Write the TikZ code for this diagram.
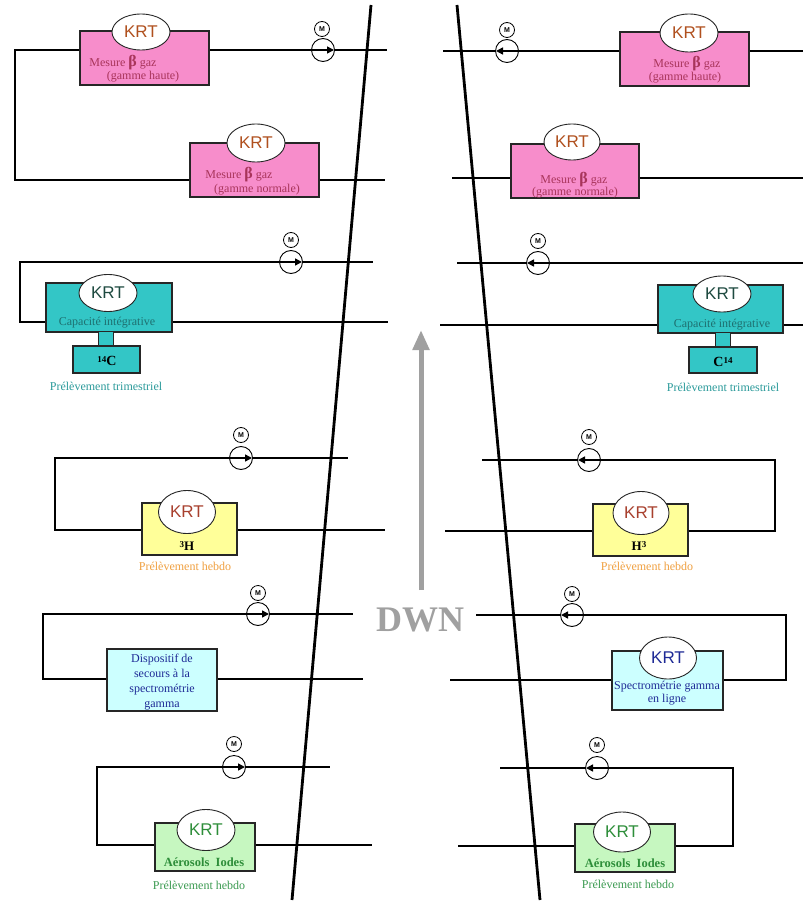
\documentclass[tikz,border=0pt]{standalone}
\usepackage{fontspec}
\setmainfont{Liberation Serif}
\setsansfont{Liberation Sans}
\usetikzlibrary{shapes.geometric,arrows.meta}
\definecolor{pinkfill}{HTML}{F78DCB}
\definecolor{tealfill}{HTML}{33C6C6}
\definecolor{yelfill}{HTML}{FFFF99}
\definecolor{cyanfill}{HTML}{CCFFFF}
\definecolor{grnfill}{HTML}{C6F7C0}
\definecolor{pinktxt}{HTML}{A8345A}
\definecolor{krtbrown}{HTML}{B0501E}
\definecolor{krtteal}{HTML}{1E4A40}
\definecolor{tealtxt}{HTML}{1E7070}
\definecolor{tealnote}{HTML}{2A9A9A}
\definecolor{krtred}{HTML}{A8402E}
\definecolor{orgnote}{HTML}{F0A040}
\definecolor{bluetxt}{HTML}{1E2A96}
\definecolor{grntxt}{HTML}{2E8E3A}
\definecolor{grnnote}{HTML}{3A9A50}
\definecolor{dwngray}{HTML}{A0A0A0}
\tikzset{
  pipe/.style={line width=1.7pt, black},
  wall/.style={line width=2.8pt, black},
  boxn/.style={rectangle, draw=black!85, line width=1.1pt, inner sep=0pt},
  krt/.style={ellipse, draw=black!85, line width=0.9pt, fill=white, inner sep=0pt,
     font=\sffamily\fontsize{17}{17}\selectfont},
  pump/.style={circle, draw=black, line width=0.9pt, fill=white, minimum size=23pt, inner sep=0pt},
  mnode/.style={circle, draw=black, line width=0.8pt, fill=white, minimum size=15pt, inner sep=0pt,
     font=\sffamily\bfseries\fontsize{7}{7}\selectfont},
  pshaft/.style={draw=black, line width=1.6pt},
  parrow/.style={draw=black, line width=1.5pt, arrows={-Triangle[length=7pt,width=7pt]}},
  lbl/.style={inner sep=0pt, font=\fontsize{12}{14}\selectfont},
}
\newcommand{\bet}{{\fontsize{16}{16}\selectfont\bfseries β}}
\newcommand{\pumpright}[1]{\draw[pshaft] ([xshift=-11pt]#1.center) -- ([xshift=5pt]#1.center);
  \draw[parrow] ([xshift=-11pt]#1.center) -- ([xshift=11pt]#1.center);}
\newcommand{\pumpleft}[1]{\draw[pshaft] ([xshift=11pt]#1.center) -- ([xshift=-5pt]#1.center);
  \draw[parrow] ([xshift=11pt]#1.center) -- ([xshift=-11pt]#1.center);}
\begin{document}
\begin{tikzpicture}[x=1pt,y=-1pt]
\useasboundingbox[fill=white] (0,0) rectangle (803,901);

% ---------------- walls and DWN ----------------
\coordinate (wa1) at (371,5);  \coordinate (wa2) at (292,900);
\coordinate (wb1) at (457,5);  \coordinate (wb2) at (540,900);
\coordinate (ga) at (421,590); \coordinate (gb) at (421,330);
\draw[line width=5pt, dwngray, -{Triangle[length=20pt,width=16pt]}] (ga) -- (gb);
\node[inner sep=0pt, text=dwngray, font=\bfseries\fontsize{36}{36}\selectfont] (dwn) at (420,620) {DWN};

% ================= LEFT SIDE =================
% group 1 & 2 (pink)
\node[boxn, fill=pinkfill, minimum width=129pt, minimum height=54pt] (b1) at (144.5,58) {};
\node[krt, text=krtbrown, minimum width=58pt, minimum height=36pt] (k1) at (141,32) {KRT};
\node[lbl, text=pinktxt] (t1a) at (123,63) {Mesure \bet\ gaz};
\node[lbl, text=pinktxt] (t1b) at (143,77) {(gamme haute)};
\node[pump] (p1) at (323,50) {};
\pumpright{p1}
\node[mnode] (m1) at (322,29) {M};

\node[boxn, fill=pinkfill, minimum width=129pt, minimum height=54pt] (b2) at (254.5,170) {};
\node[krt, text=krtbrown, minimum width=58pt, minimum height=38pt] (k2) at (256,143) {KRT};
\node[lbl, text=pinktxt] (t2a) at (239,175) {Mesure \bet\ gaz};
\node[lbl, text=pinktxt] (t2b) at (257,190) {(gamme normale)};

\coordinate (c1) at (15,50); \coordinate (c2) at (15,180);
\coordinate (e1) at (387,50); \coordinate (e2) at (385,180);
\draw[pipe] (b1.west |- c1) -- (c1) -- (c2) -- (b2.west |- c2);
\draw[pipe] (b1.east |- c1) -- (p1.west);
\draw[pipe] (p1.east) -- (e1);
\draw[pipe] (b2.east |- c2) -- (e2);

% group 3 (teal)
\node[boxn, fill=tealfill, minimum width=126pt, minimum height=49pt] (b3) at (109,307.5) {};
\node[krt, text=krtteal, minimum width=58pt, minimum height=37pt] (k3) at (108,293) {KRT};
\node[lbl, text=tealtxt] (t3) at (107,323) {Capacité intégrative};
\node[boxn, fill=tealfill, minimum width=14pt, minimum height=14pt, draw=none] (s3) at (106,339) {};
\draw[line width=1.3pt, black!85] (s3.north west) -- (s3.south west) (s3.north east) -- (s3.south east);
\node[boxn, fill=tealfill, minimum width=67pt, minimum height=27pt] (q3) at (106.5,359.5) {};
\node[inner sep=0pt, font=\bfseries\fontsize{14}{14}\selectfont] (n3) at (107,361) {\raisebox{0.55ex}{\fontsize{9}{9}\selectfont 14}C};
\node[lbl, text=tealnote] (r3) at (106,386) {Prélèvement trimestriel};
\node[pump] (p3) at (291,262) {};
\pumpright{p3}
\node[mnode] (m3) at (291,240) {M};
\coordinate (c3a) at (20,262); \coordinate (c3b) at (20,322);
\coordinate (e3a) at (373,262); \coordinate (e3b) at (388,322);
\draw[pipe] (p3.west) -- (c3a) -- (c3b) -- (b3.west |- c3b);
\draw[pipe] (p3.east) -- (e3a);
\draw[pipe] (b3.east |- c3b) -- (e3b);

% group 4 (yellow)
\node[boxn, fill=yelfill, minimum width=95pt, minimum height=52pt] (b4) at (189.5,529) {};
\node[krt, text=krtred, minimum width=57pt, minimum height=43pt] (k4) at (187,512) {KRT};
\node[inner sep=0pt, font=\bfseries\fontsize{13}{13}\selectfont] (n4) at (187,546) {\raisebox{0.55ex}{\fontsize{9}{9}\selectfont 3}H};
\node[lbl, text=orgnote] (r4) at (185,566) {Prélèvement hebdo};
\node[pump] (p4) at (241,458) {};
\pumpright{p4}
\node[mnode] (m4) at (241,435) {M};
\coordinate (c4a) at (55,458); \coordinate (c4b) at (55,530);
\coordinate (e4a) at (348,458); \coordinate (e4b) at (385,530);
\draw[pipe] (p4.west) -- (c4a) -- (c4b) -- (b4.west |- c4b);
\draw[pipe] (p4.east) -- (e4a);
\draw[pipe] (b4.east |- c4b) -- (e4b);

% group 5 (light cyan)
\node[boxn, fill=cyanfill, minimum width=110pt, minimum height=62pt] (b5) at (162,680) {};
\node[inner sep=0pt, text=bluetxt, align=center, font=\fontsize{12}{15}\selectfont] (t5) at (162,682)
  {Dispositif de\\secours à la\\spectrométrie\\gamma};
\node[pump] (p5) at (258,614) {};
\pumpright{p5}
\node[mnode] (m5) at (258,593) {M};
\coordinate (c5a) at (43,614); \coordinate (c5b) at (43,679);
\coordinate (e5a) at (353,614); \coordinate (e5b) at (363,679);
\draw[pipe] (p5.west) -- (c5a) -- (c5b) -- (b5.west |- c5b);
\draw[pipe] (p5.east) -- (e5a);
\draw[pipe] (b5.east |- c5b) -- (e5b);

% group 6 (green)
\node[boxn, fill=grnfill, minimum width=100pt, minimum height=48pt] (b6) at (205,847) {};
\node[krt, text=grntxt, minimum width=58pt, minimum height=41pt] (k6) at (206,830) {KRT};
\node[inner sep=0pt, text=grntxt, font=\bfseries\fontsize{12.5}{13}\selectfont] (n6) at (204,862) {Aérosols\ \ Iodes};
\node[lbl, text=grnnote] (r6) at (199,885) {Prélèvement hebdo};
\node[pump] (p6) at (234,767) {};
\pumpright{p6}
\node[mnode] (m6) at (234,744) {M};
\coordinate (c6a) at (97,767); \coordinate (c6b) at (97,845);
\coordinate (e6a) at (330,767); \coordinate (e6b) at (372,845);
\draw[pipe] (p6.west) -- (c6a) -- (c6b) -- (b6.west |- c6b);
\draw[pipe] (p6.east) -- (e6a);
\draw[pipe] (b6.east |- c6b) -- (e6b);

% ================= RIGHT SIDE =================
% group 1 & 2 (pink)
\node[boxn, fill=pinkfill, minimum width=129pt, minimum height=54pt] (rb1) at (684.5,59) {};
\node[krt, text=krtbrown, minimum width=58pt, minimum height=38pt] (rk1) at (689,33) {KRT};
\node[lbl, text=pinktxt] (rt1a) at (687,64) {Mesure \bet\ gaz};
\node[lbl, text=pinktxt] (rt1b) at (685,78) {(gamme haute)};
\node[pump] (rp1) at (507,51) {};
\pumpleft{rp1}
\node[mnode] (rm1) at (507,30) {M};
\coordinate (rs1) at (443,51); \coordinate (re1) at (803,51);
\draw[pipe] (rs1) -- (rp1.west);
\draw[pipe] (rp1.east) -- (rb1.west |- rs1);
\draw[pipe] (rb1.east |- rs1) -- (re1);

\node[boxn, fill=pinkfill, minimum width=128pt, minimum height=54pt] (rb2) at (575,171) {};
\node[krt, text=krtbrown, minimum width=56pt, minimum height=36pt] (rk2) at (572,142) {KRT};
\node[lbl, text=pinktxt] (rt2a) at (574,180) {Mesure \bet\ gaz};
\node[lbl, text=pinktxt] (rt2b) at (575,193) {(gamme normale)};
\coordinate (rs2) at (452,178); \coordinate (re2) at (803,178);
\draw[pipe] (rs2) -- (rb2.west |- rs2);
\draw[pipe] (rb2.east |- rs2) -- (re2);

% group 3 (teal)
\node[boxn, fill=tealfill, minimum width=125pt, minimum height=48pt] (rb3) at (720.5,309) {};
\node[krt, text=krtteal, minimum width=58pt, minimum height=36pt] (rk3) at (722,294) {KRT};
\node[lbl, text=tealtxt] (rt3) at (722,325) {Capacité intégrative};
\node[boxn, fill=tealfill, minimum width=14pt, minimum height=14pt, draw=none] (rs3) at (723,340) {};
\draw[line width=1.3pt, black!85] (rs3.north west) -- (rs3.south west) (rs3.north east) -- (rs3.south east);
\node[boxn, fill=tealfill, minimum width=68pt, minimum height=26pt] (rq3) at (723,360) {};
\node[inner sep=0pt, font=\bfseries\fontsize{14}{14}\selectfont] (rn3) at (723,362) {C\raisebox{0.55ex}{\fontsize{9}{9}\selectfont 14}};
\node[lbl, text=tealnote] (rr3) at (723,387) {Prélèvement trimestriel};
\node[pump] (rp3) at (538,263) {};
\pumpleft{rp3}
\node[mnode] (rm3) at (538,241) {M};
\coordinate (rs3a) at (457,263); \coordinate (re3a) at (803,263);
\coordinate (rs3b) at (440,325); \coordinate (re3b) at (803,325);
\draw[pipe] (rs3a) -- (rp3.west);
\draw[pipe] (rp3.east) -- (re3a);
\draw[pipe] (rs3b) -- (rb3.west |- rs3b);
\draw[pipe] (rb3.east |- rs3b) -- (re3b);

% group 4 (yellow)
\node[boxn, fill=yelfill, minimum width=95pt, minimum height=52pt] (rb4) at (640.5,530) {};
\node[krt, text=krtred, minimum width=56pt, minimum height=43pt] (rk4) at (641,513) {KRT};
\node[inner sep=0pt, font=\bfseries\fontsize{13}{13}\selectfont] (rn4) at (639,546) {H\raisebox{0.55ex}{\fontsize{9}{9}\selectfont 3}};
\node[lbl, text=orgnote] (rr4) at (647,566) {Prélèvement hebdo};
\node[pump] (rp4) at (589,460) {};
\pumpleft{rp4}
\node[mnode] (rm4) at (589,437) {M};
\coordinate (rs4a) at (482,460); \coordinate (rc4a) at (775,460);
\coordinate (rc4b) at (775,531); \coordinate (rs4b) at (445,531);
\draw[pipe] (rs4a) -- (rp4.west);
\draw[pipe] (rp4.east) -- (rc4a) -- (rc4b) -- (rb4.east |- rc4b);
\draw[pipe] (rs4b) -- (rb4.west |- rs4b);

% group 5 (light cyan)
\node[boxn, fill=cyanfill, minimum width=111pt, minimum height=59pt] (rb5) at (667.5,680.5) {};
\node[krt, text=bluetxt, minimum width=57pt, minimum height=42pt] (rk5) at (668,658) {KRT};
\node[inner sep=0pt, text=bluetxt, align=center, font=\fontsize{12}{13}\selectfont] (rt5) at (667,693)
  {Spectrométrie gamma\\en ligne};
\node[pump] (rp5) at (572,615) {};
\pumpleft{rp5}
\node[mnode] (rm5) at (572,594) {M};
\coordinate (rs5a) at (476,615); \coordinate (rc5a) at (786,615);
\coordinate (rc5b) at (786,680); \coordinate (rs5b) at (450,680);
\draw[pipe] (rs5a) -- (rp5.west);
\draw[pipe] (rp5.east) -- (rc5a) -- (rc5b) -- (rb5.east |- rc5b);
\draw[pipe] (rs5b) -- (rb5.west |- rs5b);

% group 6 (green)
\node[boxn, fill=grnfill, minimum width=100pt, minimum height=48pt] (rb6) at (625,848) {};
\node[krt, text=grntxt, minimum width=57pt, minimum height=40pt] (rk6) at (622,832) {KRT};
\node[inner sep=0pt, text=grntxt, font=\bfseries\fontsize{12.5}{13}\selectfont] (rn6) at (625,863) {Aérosols\ \ Iodes};
\node[lbl, text=grnnote] (rr6) at (628,884) {Prélèvement hebdo};
\node[pump] (rp6) at (597,768) {};
\pumpleft{rp6}
\node[mnode] (rm6) at (597,745) {M};
\coordinate (rs6a) at (500,768); \coordinate (rc6a) at (733,768);
\coordinate (rc6b) at (733,846); \coordinate (rs6b) at (458,846);
\draw[pipe] (rs6a) -- (rp6.west);
\draw[pipe] (rp6.east) -- (rc6a) -- (rc6b) -- (rb6.east |- rc6b);
\draw[pipe] (rs6b) -- (rb6.west |- rs6b);

% walls
\draw[wall] (wa1) -- (wa2);
\draw[wall] (wb1) -- (wb2);
\end{tikzpicture}
\end{document}
